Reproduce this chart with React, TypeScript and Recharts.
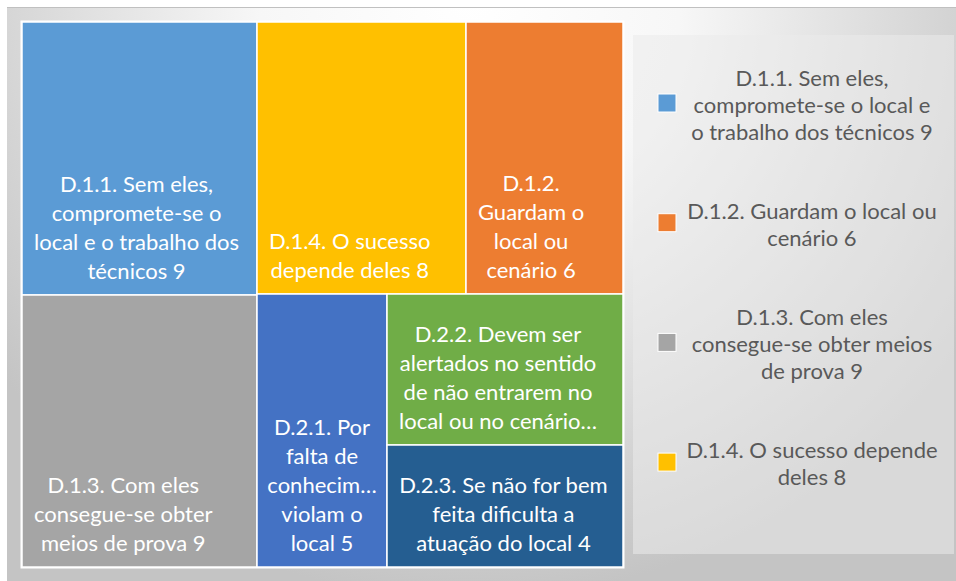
import React from 'react'
import { Treemap } from 'recharts'

// treemap items, in the order the chart lays them out
const names = [
  'D.1.1. Sem eles, compromete-se o local e o trabalho dos técnicos',
  'D.1.3. Com eles consegue-se obter meios de prova',
  'D.1.4. O sucesso depende deles',
  'D.1.2. Guardam o local ou cenário',
  'D.2.1. Por falta de conhecimento violam o local',
  'D.2.2. Devem ser alertados no sentido de não entrarem no local ou no cenário',
  'D.2.3. Se não for bem feita dificulta a atuação do local',
]
const values = [9, 9, 8, 6, 5, 5, 4]
const colors = ['#5B9BD5', '#A5A5A5', '#FFC000', '#ED7D31', '#4472C4', '#70AD47', '#255E91']

// label text as it wraps inside each cell
const cellLines = [
  ['D.1.1. Sem eles,', 'compromete-se o', 'local e o trabalho dos', 'técnicos 9'],
  ['D.1.3. Com eles', 'consegue-se obter', 'meios de prova 9'],
  ['D.1.4. O sucesso', 'depende deles 8'],
  ['D.1.2.', 'Guardam o', 'local ou', 'cenário 6'],
  ['D.2.1. Por', 'falta de', 'conhecim…', 'violam o', 'local 5'],
  ['D.2.2. Devem ser', 'alertados no sentido', 'de não entrarem no', 'local ou no cenário…'],
  ['D.2.3. Se não for bem', 'feita dificulta a', 'atuação do local 4'],
]

// legend only lists the D.1 items
const legendItems = [0, 3, 1, 2]
const legendLines = [
  ['D.1.1. Sem eles,', 'compromete-se o local e', 'o trabalho dos técnicos 9'],
  ['D.1.2. Guardam o local ou', 'cenário 6'],
  ['D.1.3. Com eles', 'consegue-se obter meios', 'de prova 9'],
  ['D.1.4. O sucesso depende', 'deles 8'],
]

const FONT = 'Lato, "Open Sans", sans-serif'
const FS = 22
const LINE = 29

const treeData = names.map((name, i) => ({
  name,
  size: values[i],
  color: colors[i],
  lines: cellLines[i],
}))

let ctx: CanvasRenderingContext2D | null = null
function textWidth(t: string) {
  if (!ctx) ctx = document.createElement('canvas').getContext('2d')
  if (!ctx) return t.length * FS * 0.45
  ctx.font = `${FS}px Lato`
  return ctx.measureText(t).width
}

function CellContent(props: any) {
  const { x, y, width, height, depth, color, lines } = props
  if (depth !== 1) return <g />
  const ls: string[] = lines || []
  const maxW = Math.max(...ls.map(textWidth))
  let cx = x + 12 + maxW / 2
  if (maxW > width - 24) cx = x + width / 2
  const bottom = y + height - 24
  return (
    <g>
      <rect x={x} y={y} width={width} height={height} fill={color} stroke="#fff" strokeWidth={1.5} />
      {ls.map((l, i) => (
        <text
          key={i}
          x={cx}
          y={bottom - (ls.length - 1 - i) * LINE + 7.5}
          textAnchor="middle"
          fill="#fff"
          fontFamily={FONT}
          fontSize={FS}
        >
          {l}
        </text>
      ))}
    </g>
  )
}

export default function App() {
  return (
    <div style={{ position: 'fixed', left: 0, top: 0, width: 956, height: 581, background: '#fff' }}>
      <svg width={956} height={581} style={{ position: 'absolute', left: 0, top: 0 }}>
        <defs>
          <radialGradient id="bg" gradientUnits="userSpaceOnUse" cx={470} cy={0} r={600}>
            <stop offset="0" stopColor="#ffffff" />
            <stop offset="0.35" stopColor="#f7f7f7" />
            <stop offset="1" stopColor="#c4c4c4" />
          </radialGradient>
        </defs>
        <rect x={7} y={7} width={949} height={574} fill="url(#bg)" />
        <line x1={7} y1={7.5} x2={956} y2={7.5} stroke="#c0c0c0" />
        <rect x={633} y={35} width={321} height={519} fill="#ebebeb" fillOpacity={0.55} />
        <rect x={20.5} y={20.5} width={604} height={548} fill="#fff" />
        {legendItems.map((idx, i) => {
          const cy = 103 + i * 119.7
          const ls = legendLines[i]
          return (
            <g key={i}>
              <rect x={658} y={cy - 9} width={18} height={18} fill={colors[idx]} stroke="#fff" strokeWidth={1} />
              {ls.map((l, j) => (
                <text
                  key={j}
                  x={812}
                  y={cy + 2 + (j - (ls.length - 1) / 2) * 27 + 7.5}
                  textAnchor="middle"
                  fill="#595959"
                  fontFamily={FONT}
                  fontSize={FS}
                >
                  {l}
                </text>
              ))}
            </g>
          )
        })}
      </svg>
      <div style={{ position: 'absolute', left: 22, top: 22 }}>
        <Treemap
          width={601}
          height={545}
          data={treeData}
          dataKey="size"
          nameKey="name"
          aspectRatio={0.9}
          isAnimationActive={false}
          content={<CellContent />}
        />
      </div>
    </div>
  )
}
